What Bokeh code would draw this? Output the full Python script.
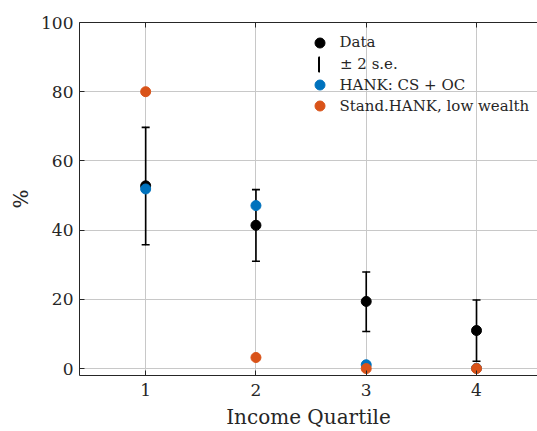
from bokeh.plotting import figure
from bokeh.models import (ColumnDataSource, FixedTicker, LinearAxis, Legend, LegendItem, Range1d)
from bokeh.embed import file_html
from bokeh.resources import INLINE

# ---- data ----
quartiles = [1, 2, 3, 4]
data_vals = [52.8, 41.4, 19.4, 11.0]
err_upper = [69.7, 51.7, 27.9, 19.8]
err_lower = [35.8, 31.0, 10.7, 2.1]
hank_cs_oc = [51.9, 47.1, 1.1, 0.1]
stand_hank = [80.0, 3.2, 0.0, 0.0]
x_ticks = [1, 2, 3, 4]
y_ticks = [0, 20, 40, 60, 80, 100]
legend_labels = ["Data", "\u00b1 2 s.e.", "HANK: CS + OC", "Stand.HANK, low wealth"]

FONT = "DejaVu Serif"
AX = "#262626"
BLUE = "#0072BD"
ORANGE = "#D95319"

p = figure(width=537, height=431, output_backend="svg", toolbar_location=None,
           x_range=Range1d(0.4, 4.553), y_range=Range1d(-2, 100),
           min_border_left=79, min_border_right=0, min_border_top=22, min_border_bottom=56)
p.outline_line_color = None
p.background_fill_color = "white"
p.border_fill_color = "white"

src = ColumnDataSource(dict(x=quartiles, y=data_vals, up=err_upper, lo=err_lower,
                            hank=hank_cs_oc, stand=stand_hank))

# error bars: stems as very thin bars, caps as dash markers
r_err = p.vbar(x="x", top="up", bottom="lo", width=0.0005, source=src,
               fill_color="black", line_color="black", line_width=1.6)
p.scatter(x="x", y="up", source=src, marker="dash", size=8, line_color="black", line_width=1.6)
p.scatter(x="x", y="lo", source=src, marker="dash", size=8, line_color="black", line_width=1.6)

r_data = p.scatter(x="x", y="y", source=src, size=10, fill_color="black", line_color="black")
r_hank = p.scatter(x="x", y="hank", source=src, size=10, fill_color=BLUE, line_color=BLUE)
r_stand = p.scatter(x="x", y="stand", source=src, size=10, fill_color=ORANGE, line_color=ORANGE)

for ax in (p.xaxis[0], p.yaxis[0]):
    ax.axis_line_color = AX
    ax.axis_line_width = 1
    ax.major_tick_line_color = AX
    ax.major_tick_in = 5
    ax.major_tick_out = 0
    ax.minor_tick_line_color = None
    ax.major_label_text_font = FONT
    ax.major_label_text_font_size = "17px"
    ax.major_label_text_color = AX
    ax.major_label_text_line_height = 1.0
    ax.axis_label_text_font = FONT
    ax.axis_label_text_font_style = "normal"
    ax.axis_label_text_color = AX
    ax.axis_label_text_line_height = 1.0

p.xaxis[0].ticker = FixedTicker(ticks=x_ticks)
p.yaxis[0].ticker = FixedTicker(ticks=y_ticks)
p.xaxis[0].axis_label = "Income Quartile"
p.xaxis[0].axis_label_text_font_size = "20px"
p.xaxis[0].major_label_standoff = 8
p.xaxis[0].axis_label_standoff = 6
p.yaxis[0].axis_label = "%"
p.yaxis[0].axis_label_text_font_size = "20px"
p.yaxis[0].major_label_standoff = 6
p.yaxis[0].axis_label_standoff = 5

top = LinearAxis(ticker=FixedTicker(ticks=x_ticks))
top.axis_line_color = AX
top.major_tick_line_color = AX
top.major_tick_in = 5
top.major_tick_out = 0
top.minor_tick_line_color = None
top.major_label_overrides = {t: "" for t in x_ticks}
top.major_label_standoff = 0
p.add_layout(top, "above")

p.xgrid.ticker = FixedTicker(ticks=x_ticks)
p.ygrid.ticker = FixedTicker(ticks=y_ticks)
for g in (p.xgrid[0], p.ygrid[0]):
    g.grid_line_color = "#c8c8c8"
    g.grid_line_width = 1

# legend: one small legend per row (frame: left 79, bottom 375)
row_centers = [42, 63.5, 84.5, 105.5]
renderers = [r_data, r_err, r_hank, r_stand]
for i, (lab, rend, cy) in enumerate(zip(legend_labels, renderers, row_centers)):
    if i == 1:
        gw, gh = 2, 18
    else:
        gw, gh = 25, 25
    h = 25
    lg = Legend(items=[LegendItem(label=lab, renderers=[rend])],
                location=(319 - gw / 2 - 79, 375 - (cy + h / 2)))
    lg.glyph_width = gw
    lg.glyph_height = gh
    lg.label_height = 25
    lg.spacing = 0
    lg.padding = 0
    lg.margin = 0
    lg.label_standoff = int(round(340 - (319 + gw / 2)))
    lg.border_line_color = None
    lg.background_fill_alpha = 0
    lg.label_text_font = FONT
    lg.label_text_font_size = "15px"
    lg.label_text_color = AX
    p.add_layout(lg)

open("out.html", "w").write(file_html(p, INLINE))
